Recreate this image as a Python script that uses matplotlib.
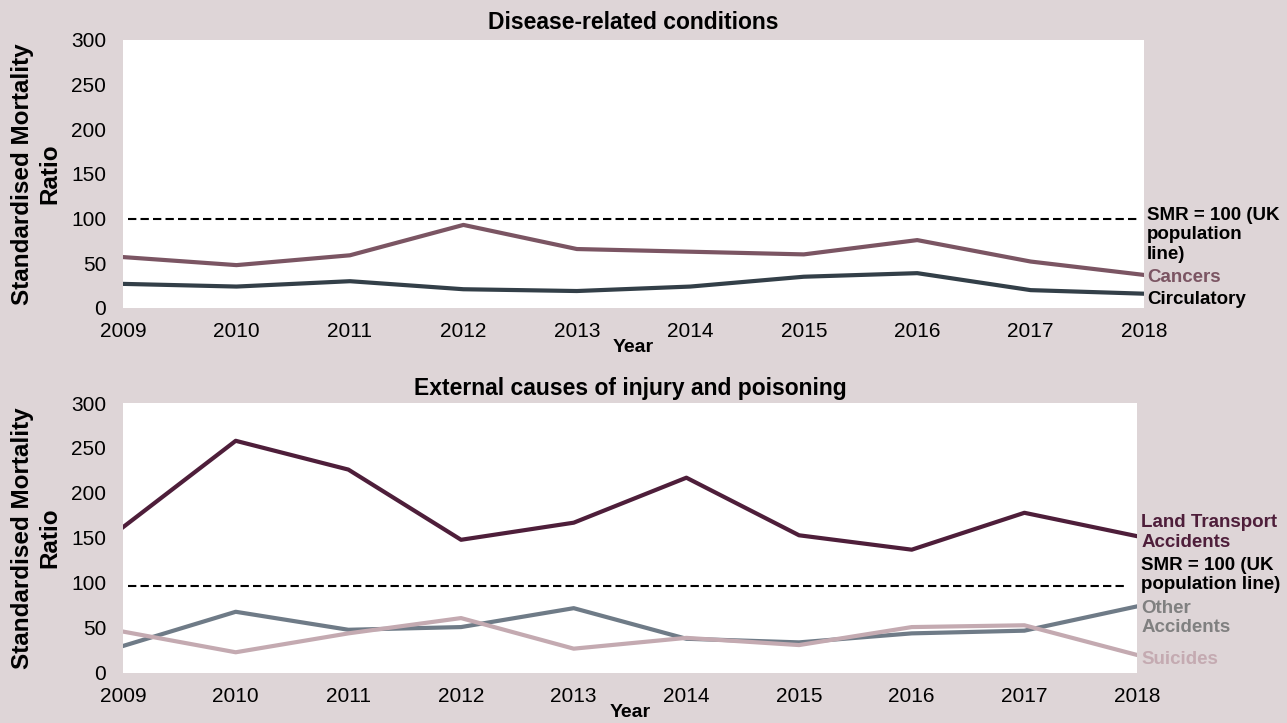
import matplotlib.pyplot as plt

plt.rcParams['font.family'] = ['Liberation Sans', 'DejaVu Sans']

years = [2009, 2010, 2011, 2012, 2013, 2014, 2015, 2016, 2017, 2018]

# Disease-related conditions
cancers = [57, 48, 59, 93, 66, 63, 60, 76, 52, 37]
circulatory = [27, 24, 30, 21, 19, 24, 35, 39, 20, 16]

# External causes of injury and poisoning
land_transport = [162, 258, 226, 148, 167, 217, 153, 137, 178, 152]
other_accidents = [30, 68, 48, 51, 72, 38, 34, 44, 47, 74]
suicides = [46, 23, 44, 61, 27, 39, 31, 51, 53, 20]

ref_top = 100
ref_bottom = 97

bg = '#ded5d7'
c_cancer = '#7b5563'
c_circ = '#333f48'
c_land = '#4e1e3a'
c_other = '#6f7b87'
c_suic = '#c4aab1'

fig = plt.figure(figsize=(12.87, 7.23), dpi=100, facecolor=bg)
ax1 = fig.add_axes([0.0956, 0.574, 0.7934, 0.3707])
ax2 = fig.add_axes([0.0956, 0.0692, 0.7879, 0.3734])


def style(ax, title, title_pad):
    ax.set_facecolor('white')
    for s in ax.spines.values():
        s.set_visible(False)
    ax.set_xlim(2009, 2018)
    ax.set_ylim(0, 300)
    ax.set_xticks(years)
    ax.set_yticks(range(0, 301, 50))
    ax.tick_params(axis='x', length=0, pad=10, labelsize=15)
    ax.tick_params(axis='y', length=0, pad=12, labelsize=15)
    ax.set_xlabel('Year', fontsize=14, fontweight='bold', labelpad=-1)
    ax.set_ylabel('Standardised Mortality\nRatio', fontsize=17.5,
                  fontweight='bold', labelpad=7, linespacing=1.25)
    ax.set_title(title, fontsize=16.5, fontweight='bold', pad=title_pad)


style(ax1, 'Disease-related conditions', 8)
ax1.plot(years, cancers, color=c_cancer, lw=3)
ax1.plot(years, circulatory, color=c_circ, lw=3)
ax1.axhline(ref_top, xmin=0.005, xmax=0.994, color='black', lw=1.5,
            dashes=(4, 2))
t = ax1.get_yaxis_transform()
ax1.text(1.003, 82, 'SMR = 100 (UK\npopulation\nline)', transform=t,
         fontsize=13.5, fontweight='bold', va='center', ha='left', linespacing=1.2)
ax1.text(1.003, 34, 'Cancers', transform=t, color=c_cancer,
         fontsize=13.5, fontweight='bold', va='center', ha='left')
ax1.text(1.003, 9, 'Circulatory', transform=t, color='black',
         fontsize=13.5, fontweight='bold', va='center', ha='left')

style(ax2, 'External causes of injury and poisoning', 6)
ax2.plot(years, land_transport, color=c_land, lw=3)
ax2.plot(years, other_accidents, color=c_other, lw=3)
ax2.plot(years, suicides, color=c_suic, lw=3)
ax2.axhline(ref_bottom, xmin=0.005, xmax=0.991, color='black', lw=1.5,
            dashes=(4, 2))
t = ax2.get_yaxis_transform()
ax2.text(1.004, 156, 'Land Transport\nAccidents', transform=t, color=c_land,
         fontsize=13.5, fontweight='bold', va='center', ha='left', linespacing=1.2)
ax2.text(1.004, 109, 'SMR = 100 (UK\npopulation line)', transform=t, color='black',
         fontsize=13.5, fontweight='bold', va='center', ha='left', linespacing=1.2)
ax2.text(1.004, 61, 'Other\nAccidents', transform=t, color='#808080',
         fontsize=13.5, fontweight='bold', va='center', ha='left', linespacing=1.2)
ax2.text(1.004, 15, 'Suicides', transform=t, color=c_suic,
         fontsize=13.5, fontweight='bold', va='center', ha='left')

fig.savefig('out.png', dpi=100, facecolor=bg)
